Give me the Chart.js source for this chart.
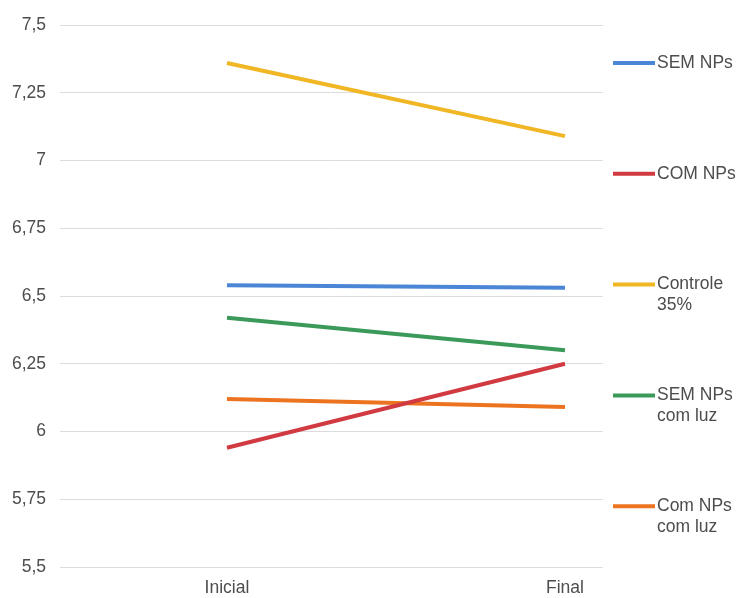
<!DOCTYPE html>
<html>
<head>
<meta charset="utf-8">
<script src="https://cdn.jsdelivr.net/npm/chart.js@4"></script>
<style>
  html, body { margin: 0; padding: 0; background: #fff; }
  #wrap { width: 738px; height: 598px; }
</style>
</head>
<body>
<div id="wrap"><canvas id="chart" width="738" height="598"></canvas></div>
<script>
// valores
const categories = ["Inicial", "Final"];
const semNPs = [6.54, 6.53];
const comNPs = [5.94, 6.25];
const controle35 = [7.36, 7.09];
const semNPsLuz = [6.42, 6.30];
const comNPsLuz = [6.12, 6.09];
const seriesLabels = [["SEM NPs"], ["COM NPs"], ["Controle", "35%"], ["SEM NPs", "com luz"], ["Com NPs", "com luz"]];
const seriesColors = ["#4a85d6", "#d03a40", "#f0b624", "#3b9a5a", "#ec7420"];
const yMin = 5.5;
const yMax = 7.5;
const yStep = 0.25;

const FONT = "'Liberation Sans', Arial, sans-serif";
const TEXT = "#4d4d4d";

const allSeries = [semNPs, comNPs, controle35, semNPsLuz, comNPsLuz];

// legenda à direita, com rótulos em várias linhas
const sideLegend = {
  id: "sideLegend",
  afterDraw(chart) {
    const ctx = chart.ctx;
    const area = chart.chartArea;
    ctx.save();
    ctx.font = "17.5px " + FONT;
    ctx.textBaseline = "middle";
    ctx.textAlign = "left";
    chart.data.datasets.forEach((ds, i) => {
      const y = area.top + 38 + i * 110.8;
      ctx.strokeStyle = ds.borderColor;
      ctx.lineWidth = 4;
      ctx.beginPath();
      ctx.moveTo(area.right + 10, y);
      ctx.lineTo(area.right + 52, y);
      ctx.stroke();
      ctx.fillStyle = TEXT;
      seriesLabels[i].forEach((line, j) => {
        ctx.fillText(line, area.right + 54, y + j * 21);
      });
    });
    ctx.restore();
  }
};

new Chart(document.getElementById("chart"), {
  type: "line",
  data: {
    datasets: allSeries.map((values, i) => ({
      label: seriesLabels[i].join(" "),
      data: values.map((v, k) => ({ x: k, y: v })),
      borderColor: seriesColors[i],
      backgroundColor: seriesColors[i],
      borderWidth: 4,
      pointRadius: 0,
      fill: false
    }))
  },
  options: {
    responsive: false,
    animation: false,
    layout: { padding: { top: 25, right: 135, bottom: 0, left: 0 } },
    plugins: {
      legend: { display: false },
      tooltip: { enabled: false }
    },
    scales: {
      x: {
        type: "linear",
        min: -0.494,
        max: 1.1125,
        afterBuildTicks: (axis) => {
          axis.ticks = categories.map((c, k) => ({ value: k }));
        },
        afterFit: (axis) => { axis.height = 31; },
        grid: { display: false, drawTicks: false },
        border: { display: false },
        ticks: {
          callback: (v) => categories[v],
          color: TEXT,
          font: { family: FONT, size: 17.5 },
          padding: 11,
          maxRotation: 0
        }
      },
      y: {
        min: yMin,
        max: yMax,
        afterFit: (axis) => { axis.width = 60; },
        grid: { color: "#dcdcdc", lineWidth: 1, drawTicks: false },
        border: { display: false },
        ticks: {
          stepSize: yStep,
          padding: 14,
          color: TEXT,
          font: { family: FONT, size: 17.5 },
          callback: (v) => String(Math.round(v * 100) / 100).replace(".", ",")
        }
      }
    }
  },
  plugins: [sideLegend]
});
</script>
</body>
</html>
